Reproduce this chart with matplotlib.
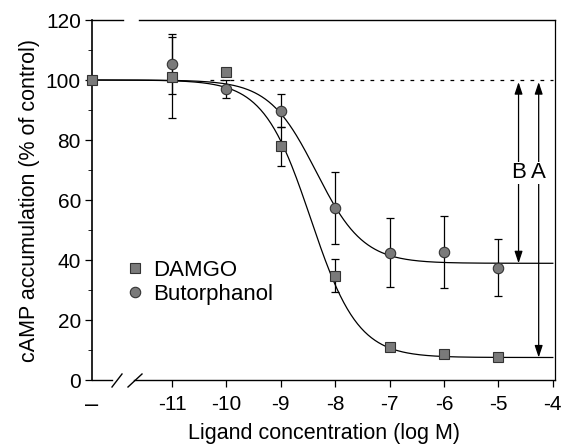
import matplotlib
matplotlib.use('Agg')
import matplotlib.pyplot as plt
from matplotlib.lines import Line2D
import numpy as np

plt.rcParams['font.family'] = ['Liberation Sans', 'DejaVu Sans']

# x positions (log M); the control point sits on the left axis
x_ctrl = -12.47
log_conc = [-11, -10, -9, -8, -7, -6, -5]

damgo_ctrl = 100
damgo = [101, 102.7, 78, 34.7, 11.1, 8.7, 7.8]
damgo_err = [13.5, 0, 6.5, 5.5, 0, 0, 0]

buto_ctrl = 100
buto = [105.5, 97, 89.7, 57.3, 42.4, 42.7, 37.4]
buto_err = [10, 3, 5.5, 12, 11.5, 12, 9.5]

# fitted sigmoid parameters: top, bottom, logIC50, Hill slope
damgo_fit = (100, 7.5, -8.45, 1.0)
buto_fit = (100, 38.9, -8.35, 1.0)

xticks = [-11, -10, -9, -8, -7, -6, -5, -4]


def sigmoid(x, top, bottom, logic50, hill):
    return bottom + (top - bottom) / (1 + 10 ** ((x - logic50) * hill))


fig = plt.figure(figsize=(5.63, 4.47), dpi=100)
ax = fig.add_axes([92 / 563, 1 - 380 / 447, 463 / 563, 360 / 447])
ax.set_xlim(x_ctrl, -3.96)
ax.set_ylim(0, 120)

xs = np.linspace(x_ctrl, -4, 400)
ax.plot(xs, sigmoid(xs, *damgo_fit), c='black', lw=0.9, zorder=2)
ax.plot(xs, sigmoid(xs, *buto_fit), c='black', lw=0.9, zorder=2)
ax.plot([-10.3, -4], [100, 100], ls=(0, (3, 5)), c='black', lw=0.9, zorder=1)

ax.errorbar(log_conc, damgo, yerr=damgo_err, fmt='none', ecolor='black',
            elinewidth=0.9, capsize=3, capthick=0.9, zorder=3)
ax.errorbar(log_conc, buto, yerr=buto_err, fmt='none', ecolor='black',
            elinewidth=0.9, capsize=3, capthick=0.9, zorder=3)
ax.plot(log_conc, damgo, 's', ms=7, mfc='#7a7a7a', mec='#333333', mew=0.8, zorder=4)
ax.plot(log_conc, buto, 'o', ms=7.5, mfc='#7a7a7a', mec='#333333', mew=0.8, zorder=4)
ax.plot([x_ctrl], [damgo_ctrl], 's', ms=7, mfc='#7a7a7a', mec='#333333', mew=0.8,
        zorder=5, clip_on=False)

# arrows A and B
arrow = dict(arrowstyle='<|-|>,head_length=0.6,head_width=0.2', color='black',
             lw=0.9, mutation_scale=12, shrinkA=0, shrinkB=0)
ax.annotate('', xy=(-4.63, 99.3), xytext=(-4.63, buto_fit[1]), arrowprops=arrow)
ax.annotate('', xy=(-4.26, 99.3), xytext=(-4.26, damgo_fit[1]), arrowprops=arrow)
ax.text(-4.63, 69, 'B', ha='center', va='center', fontsize=16,
        bbox=dict(fc='white', ec='none', pad=0.5), zorder=6)
ax.text(-4.26, 69, 'A', ha='center', va='center', fontsize=16,
        bbox=dict(fc='white', ec='none', pad=0.5), zorder=6)

# spines with axis break
ax.spines['top'].set_visible(False)
ax.spines['bottom'].set_visible(False)
ax.spines['left'].set_linewidth(1.2)
ax.spines['right'].set_linewidth(0.9)
tr = ax.transAxes
b1 = (112 - 92) / 463
b2 = (134 - 92) / 463
t1 = (123 - 92) / 463
t2 = (139 - 92) / 463
for seg in [(0, b1), (b2, 1)]:
    ax.add_line(Line2D(seg, [0, 0], transform=tr, c='black', lw=1.0, clip_on=False))
for seg in [(0, t1), (t2, 1)]:
    ax.add_line(Line2D(seg, [1, 1], transform=tr, c='black', lw=1.0, clip_on=False))
for x0, x1 in [(112, 122), (128, 142)]:
    ax.add_line(Line2D([(x0 - 92) / 463, (x1 - 92) / 463], [-7 / 360, 6 / 360],
                       transform=tr, c='black', lw=1.0, clip_on=False))

ax.set_xticks(xticks)
ax.set_xticklabels([str(t) for t in xticks])
ax.set_yticks(range(0, 121, 20))
ax.set_yticks(range(10, 120, 20), minor=True)
ax.tick_params(axis='both', labelsize=15, direction='out', width=0.9)
ax.tick_params(axis='x', length=5, pad=6)
ax.tick_params(axis='y', which='major', length=5, pad=3)
ax.tick_params(axis='y', which='minor', length=3)
ax.text(x_ctrl, -4.5, '\u2013', ha='center', va='top', fontsize=17,
        transform=ax.transData)

ax.set_xlabel('Ligand concentration (log M)', fontsize=15.5, labelpad=6)
ax.set_ylabel('cAMP accumulation (% of control)', fontsize=15.5, labelpad=4)

handles = [
    Line2D([], [], ls='none', marker='s', ms=7, mfc='#7a7a7a', mec='#333333', mew=0.8),
    Line2D([], [], ls='none', marker='o', ms=7.5, mfc='#7a7a7a', mec='#333333', mew=0.8),
]
ax.legend(handles, ['DAMGO', 'Butorphanol'], loc='upper left',
          bbox_to_anchor=(0.05, 0.365), frameon=False, fontsize=16,
          handlelength=0.8, handletextpad=0.4, labelspacing=0.15, borderpad=0)

fig.savefig('out.png', dpi=100)
